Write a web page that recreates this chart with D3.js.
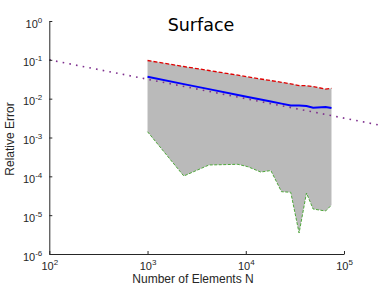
<!DOCTYPE html>
<html>
<head>
<meta charset="utf-8">
<script src="https://cdn.jsdelivr.net/npm/d3@7"></script>
<style>
  body { margin: 0; background: #fff; }
  svg { display: block; }
</style>
</head>
<body>
<div id="chart"></div>
<script>
// number of elements N
const elements = [1000, 2340, 4220, 8320, 10500, 14200, 18000, 23100, 28700, 34900, 41500, 48500, 64900, 74600];
// max relative error (red dashed, top of band)
const maxError = [0.0961, 0.0673, 0.0531, 0.0402, 0.0363, 0.0321, 0.0292, 0.0264, 0.0241, 0.0218, 0.0216, 0.0206, 0.0177, 0.0185];
// mean relative error (blue)
const meanError = [0.0368, 0.0237, 0.0176, 0.0125, 0.0111, 0.0095, 0.00845, 0.00746, 0.00667, 0.00663, 0.00647, 0.00585, 0.0061, 0.00574];
// min relative error (green dashed, bottom of band)
const minError = [0.00141, 0.000102, 0.000196, 0.000204, 0.000177, 0.000129, 0.000141, 0.0000402, 0.0000388, 0.00000347, 0.0000372, 0.0000144, 0.0000128, 0.0000182];
// reference slope line (purple dotted)
const refN = [100, 240000];
const refError = [0.1, 0.00204];

const xTicks = [1e2, 1e3, 1e4, 1e5];
const yTicks = [1e-6, 1e-5, 1e-4, 1e-3, 1e-2, 1e-1, 1e0];

const width = 382, height = 285;
const plotLeft = 49.3, plotRight = 344, plotTop = 21, plotBottom = 254;
const axisColor = "#262626";
const font = "'Liberation Sans', Arial, sans-serif";

const svg = d3.select("#chart").append("svg")
    .attr("width", width)
    .attr("height", height);

const x = d3.scaleLog().domain([1e2, 1e5]).range([plotLeft, plotRight]);
const y = d3.scaleLog().domain([1e-6, 1]).range([plotBottom, plotTop]);

const rows = elements.map((n, i) => ({ n: n, max: maxError[i], mean: meanError[i], min: minError[i] }));

// grey band between min and max
svg.append("path")
    .datum(rows)
    .attr("fill", "#bababa")
    .attr("d", d3.area().x(d => x(d.n)).y0(d => y(d.min)).y1(d => y(d.max)));

// reference line
svg.append("path")
    .datum(refN.map((n, i) => [n, refError[i]]))
    .attr("fill", "none")
    .attr("stroke", "#7e2f8e")
    .attr("stroke-width", 1.6)
    .attr("stroke-dasharray", "1.6,5.2")
    .attr("d", d3.line().x(d => x(d[0])).y(d => y(d[1])));

// mean
svg.append("path")
    .datum(rows)
    .attr("fill", "none")
    .attr("stroke", "#0000ff")
    .attr("stroke-width", 2)
    .attr("d", d3.line().x(d => x(d.n)).y(d => y(d.mean)));

// max
svg.append("path")
    .datum(rows)
    .attr("fill", "none")
    .attr("stroke", "#e00000")
    .attr("stroke-width", 1.3)
    .attr("stroke-dasharray", "4,2")
    .attr("d", d3.line().x(d => x(d.n)).y(d => y(d.max)));

// min
svg.append("path")
    .datum(rows)
    .attr("fill", "none")
    .attr("stroke", "#4ea83a")
    .attr("stroke-width", 1)
    .attr("stroke-dasharray", "3,1.5")
    .attr("d", d3.line().x(d => x(d.n)).y(d => y(d.min)));

function powerLabel(sel) {
    sel.each(function(d) {
        const t = d3.select(this);
        const e = Math.round(Math.log10(d));
        t.text(null);
        t.append("tspan").text("10");
        t.append("tspan").attr("dy", -5).style("font-size", "8px").text(e);
    });
}

// x axis
const gx = svg.append("g")
    .attr("transform", `translate(0,${plotBottom})`)
    .call(d3.axisBottom(x).tickValues(xTicks).tickSizeInner(-3).tickSizeOuter(0).tickPadding(8));
gx.select(".domain").attr("stroke", axisColor).attr("stroke-width", 1);
gx.selectAll(".tick line").attr("stroke", axisColor);
gx.selectAll(".tick text")
    .attr("fill", axisColor)
    .style("font-family", font)
    .style("font-size", "11px")
    .call(powerLabel);

// y axis
const gy = svg.append("g")
    .attr("transform", `translate(${plotLeft},0)`)
    .call(d3.axisLeft(y).tickValues(yTicks).tickSizeInner(-3).tickSizeOuter(0).tickPadding(7));
gy.select(".domain").attr("stroke", axisColor).attr("stroke-width", 1);
gy.selectAll(".tick line").attr("stroke", axisColor);
gy.selectAll(".tick text")
    .attr("fill", axisColor)
    .attr("dy", "0.55em")
    .style("font-family", font)
    .style("font-size", "11px")
    .call(powerLabel);

// title
svg.append("text")
    .attr("x", 201)
    .attr("y", 31)
    .attr("text-anchor", "middle")
    .style("font-family", "'DejaVu Sans', sans-serif")
    .style("font-size", "17.5px")
    .attr("fill", "#000")
    .text("Surface");

// axis labels
svg.append("text")
    .attr("x", 193)
    .attr("y", 283)
    .attr("text-anchor", "middle")
    .style("font-family", font)
    .style("font-size", "12px")
    .attr("fill", axisColor)
    .text("Number of Elements N");

svg.append("text")
    .attr("transform", "translate(14,139) rotate(-90)")
    .attr("text-anchor", "middle")
    .style("font-family", font)
    .style("font-size", "12px")
    .attr("fill", axisColor)
    .text("Relative Error");
</script>
</body>
</html>
